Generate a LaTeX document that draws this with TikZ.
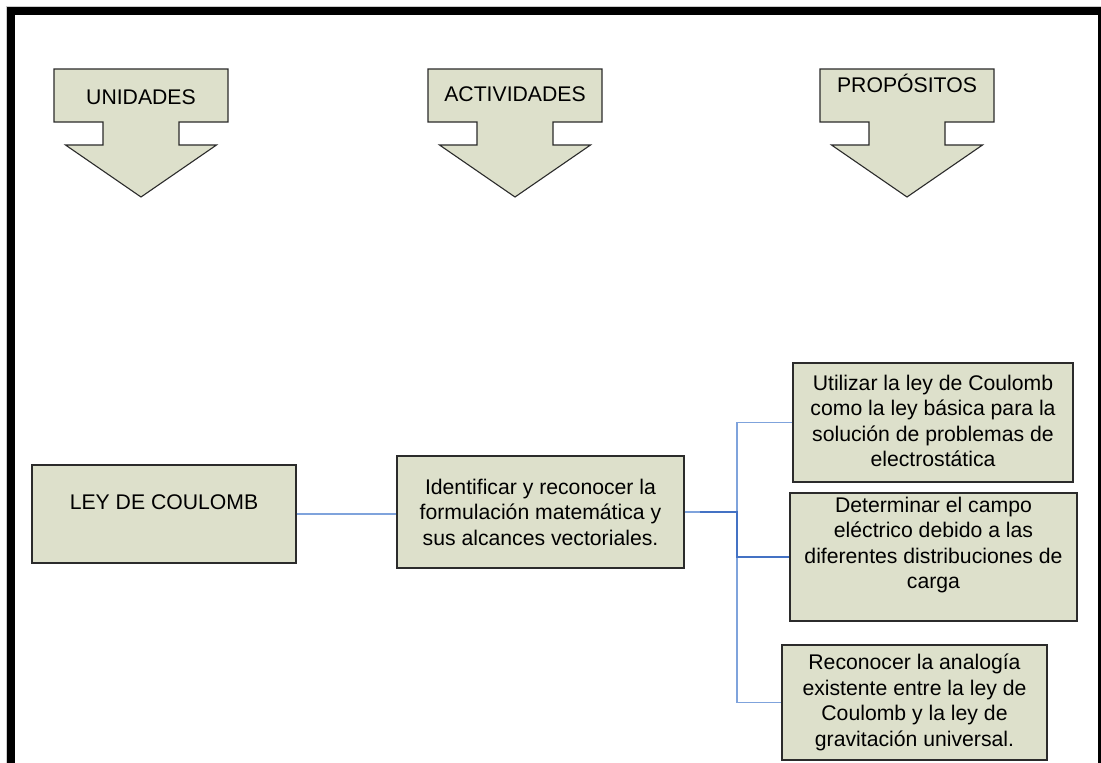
\documentclass[tikz,border=0pt]{standalone}
\usepackage{fontspec}
\setmainfont{Liberation Sans}
\definecolor{boxfill}{HTML}{DDE0CB}
\definecolor{boxline}{HTML}{2B2B2B}
\definecolor{linklight}{HTML}{7FA3DC}
\definecolor{linkdark}{HTML}{4472C4}
\begin{document}
\begin{tikzpicture}[x=1pt,y=-1pt,
  box/.style={draw=boxline,fill=boxfill,line width=1.1pt,inner sep=0pt},
  txt/.style={align=center,inner sep=0pt,text=black,font=\fontsize{21.2}{25.5}\selectfont},
  linkl/.style={draw=linklight,line width=1.4pt},
  linkd/.style={draw=linkdark,line width=1.6pt},
  hdrarrow/.pic={
    \path[box] (-87,0) -- (87,0) -- (87,53) -- (38,53) -- (38,76) -- (75.5,76)
      -- (0,128) -- (-75.5,76) -- (-38,76) -- (-38,53) -- (-87,53) -- cycle;
  }]
\useasboundingbox (0,0) rectangle (1101,763);
\fill[white] (0,0) rectangle (1101,763);

% page frame
\draw[black!20,line width=0.6pt] (6.2,763) -- (6.2,6.2) -- (1101,6.2);
\fill[black] (7,7) rectangle (1101,15);
\fill[black] (7,7) rectangle (15,763);
\fill[black] (1098,15) rectangle (1101,763);

% column headers
\pic at (141,69) {hdrarrow};
\pic at (515,69) {hdrarrow};
\pic at (907,69) {hdrarrow};
\node[txt] (hunits) at (141,97) {UNIDADES};
\node[txt] (hacts) at (515,94) {ACTIVIDADES};
\node[txt] (hgoals) at (907,83) {PROPÓSITOS};

% boxes
\node[box,minimum width=264,minimum height=98] (ley) at (164,514) {};
\node[box,minimum width=287,minimum height=112] (ident) at (540.5,512) {};
\node[box,minimum width=280,minimum height=119] (b1) at (933,422.5) {};
\node[box,minimum width=287,minimum height=128] (b2) at (933.5,557) {};
\node[box,minimum width=265,minimum height=115] (b3) at (914.5,702.5) {};

% box texts
\node[txt] (tley) at (164,502) {LEY DE COULOMB};
\node[txt] (tident) at (540.5,512) {Identificar y reconocer la\\formulación matemática y\\sus alcances vectoriales.};
\node[txt] (tb1) at (933,421) {Utilizar la ley de Coulomb\\como la ley básica para la\\solución de problemas de\\electrostática};
\node[txt] (tb2) at (933.5,545) {Determinar el campo\\eléctrico debido a las\\diferentes distribuciones de\\carga};
\node[txt] (tb3) at (914.5,702.5) {Reconocer la analogía\\existente entre la ley de\\Coulomb y la ley de\\gravitación universal.};

% connectors
\coordinate (split) at (737,512);
\draw[linkl] (ley.east) -- (ley.east -| ident.west);
\draw[linkl] (ident.east) -- (split) |- (b1.west);
\draw[linkl] (split) |- (b3.west);
\draw[linkd] ([xshift=15pt]ident.east) -- (split) |- (b2.west);
\end{tikzpicture}
\end{document}
